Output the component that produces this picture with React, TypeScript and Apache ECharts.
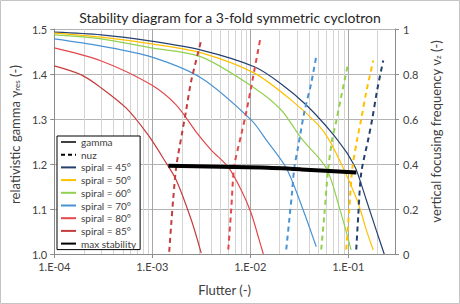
import React, { useEffect, useRef } from 'react';
import * as echarts from 'echarts';

const titleText = 'Stability diagram for a 3-fold symmetric cyclotron';
const xName = 'Flutter (-)';
const yLeftName = 'relativistic gamma γ{s|res} (-)';
const yRightName = 'vertical focusing frequency ν{s|z} (-)';

const spiralNames = ['spiral = 45°', 'spiral = 50°', 'spiral = 60°', 'spiral = 70°', 'spiral = 80°', 'spiral = 85°'];
const spiralColors = ['#25406f', '#ffc000', '#92d050', '#4a93d3', '#e4474a', '#c43c3c'];

// gamma_res (left axis) vs flutter
const gamma45 = [[1e-4, 1.493], [3.02e-4, 1.487], [9.77e-4, 1.473], [3.16e-3, 1.453], [1.1e-2, 1.416], [2.07e-2, 1.378], [3.73e-2, 1.331], [6.71e-2, 1.271], [9.54e-2, 1.227], [0.107, 1.209], [0.121, 1.187], [0.153, 1.12], [0.193, 1.053], [0.233, 1.0]];
const gamma50 = [[1e-4, 1.491], [3.02e-4, 1.482], [9.77e-4, 1.467], [3.16e-3, 1.447], [1.1e-2, 1.402], [2.62e-2, 1.342], [4.94e-2, 1.287], [6.4e-2, 1.253], [8.89e-2, 1.191], [0.121, 1.124], [0.136, 1.091], [0.153, 1.053], [0.18, 1.009]];
const gamma60 = [[1e-4, 1.487], [3.02e-4, 1.478], [9.77e-4, 1.458], [3.16e-3, 1.438], [1.1e-2, 1.369], [2.07e-2, 1.32], [3.32e-2, 1.257], [5.96e-2, 1.191], [8.09e-2, 1.104], [0.107, 1.009]];
const gamma70 = [[1e-4, 1.478], [3.02e-4, 1.462], [9.77e-4, 1.438], [3.16e-3, 1.391], [1.02e-2, 1.298], [1.46e-2, 1.253], [2.33e-2, 1.191], [3.32e-2, 1.109], [4.72e-2, 1.016]];
const gamma80 = [[1e-4, 1.458], [3.02e-4, 1.429], [9.77e-4, 1.376], [1.76e-3, 1.331], [2.81e-3, 1.271], [4.0e-3, 1.231], [5.97e-3, 1.193], [8.09e-3, 1.142], [1.02e-2, 1.091], [1.235e-2, 1.031], [1.36e-2, 1.0]];
const gamma85 = [[1e-4, 1.418], [1.89e-4, 1.398], [3.02e-4, 1.369], [5.43e-4, 1.324], [9.1e-4, 1.264], [1.39e-3, 1.202], [1.76e-3, 1.164], [2.5e-3, 1.076], [3.16e-3, 1.002]];

// nu_z (right axis) vs flutter
const nuz45 = [[0.1207, 0.02], [0.1265, 0.17], [0.1357, 0.36], [0.16, 0.51], [0.1757, 0.6], [0.1976, 0.73], [0.2276, 0.86]];
const nuz50 = [[9.54e-2, 0.02], [0.1024, 0.2], [0.11, 0.38], [0.1235, 0.51], [0.1357, 0.6], [0.1527, 0.72], [0.18, 0.86]];
const nuz60 = [[5.3e-2, 0.02], [5.69e-2, 0.17], [6.25e-2, 0.38], [6.87e-2, 0.51], [7.54e-2, 0.59], [8.48e-2, 0.7], [0.1, 0.85]];
const nuz70 = [[2.33e-2, 0.02], [2.5e-2, 0.15], [2.68e-2, 0.28], [2.81e-2, 0.38], [3.09e-2, 0.48], [3.56e-2, 0.63], [4.19e-2, 0.76], [4.72e-2, 0.88]];
const nuz80 = [[5.97e-3, 0.02], [6.4e-3, 0.2], [6.87e-3, 0.39], [8.09e-3, 0.53], [9.1e-3, 0.63], [1.02e-2, 0.74], [1.27e-2, 0.96]];
const nuz85 = [[1.49e-3, 0.01], [1.56e-3, 0.13], [1.64e-3, 0.25], [1.76e-3, 0.39], [2.02e-3, 0.54], [2.22e-3, 0.64], [2.5e-3, 0.77], [3.16e-3, 0.95]];

const maxStability = [[1.46e-3, 1.196], [1.29e-2, 1.192], [3.32e-2, 1.188], [0.121, 1.181]];

const gammaSets = [gamma45, gamma50, gamma60, gamma70, gamma80, gamma85];
const nuzSets = [nuz45, nuz50, nuz60, nuz70, nuz80, nuz85];

const xMin = 1e-4;
const xMax = 0.3;
const yMin = 1.0;
const yMax = 1.5;

export default function App() {
  const ref = useRef<HTMLDivElement>(null);
  useEffect(() => {
    document.body.style.margin = '0';
    if (!ref.current) return;
    const chart = echarts.init(ref.current, undefined, { renderer: 'svg' });
    const font = 'Lato';

    const minor: number[] = [];
    for (let d = -4; d <= -1; d++) {
      for (let k = 2; k <= 9; k++) {
        const v = k * Math.pow(10, d);
        if (v < xMax - 1e-9) minor.push(v);
      }
    }

    const series: any[] = [];
    series.push({
      name: 'minor', type: 'lines', coordinateSystem: 'cartesian2d', xAxisIndex: 0, yAxisIndex: 0,
      z: 1, silent: true, polyline: false,
      lineStyle: { color: '#d4d4d4', width: 1, opacity: 1, curveness: 0 },
      data: minor.map((v) => ({ coords: [[v, yMin], [v, yMax]] })),
    });
    series.push({ name: 'gamma', type: 'line', data: [], symbol: 'none', lineStyle: { color: '#404040', width: 1.2 }, itemStyle: { color: '#404040' } });
    series.push({ name: 'nuz', type: 'line', data: [], symbol: 'none', lineStyle: { color: '#000', width: 1.5, type: [4, 3] }, itemStyle: { color: '#000' } });
    spiralNames.forEach((n, i) => {
      series.push({
        name: n, type: 'line', data: gammaSets[i], yAxisIndex: 0, symbol: 'none', smooth: 0.3, z: 3,
        lineStyle: { color: spiralColors[i], width: 1.2 }, itemStyle: { color: spiralColors[i] },
      });
    });
    spiralNames.forEach((n, i) => {
      series.push({
        name: n, type: 'line', data: nuzSets[i], yAxisIndex: 1, symbol: 'none', smooth: 0.3, z: 3,
        lineStyle: { color: spiralColors[i], width: 2, type: [5, 4] }, itemStyle: { color: spiralColors[i] },
      });
    });
    series.push({
      name: 'max stability', type: 'line', data: maxStability, yAxisIndex: 0, symbol: 'none', smooth: 0.3, z: 4,
      lineStyle: { color: '#000', width: 4 }, itemStyle: { color: '#000' },
    });

    chart.setOption({
      animation: false,
      textStyle: { fontFamily: font },
      title: {
        text: titleText, left: 'center', top: 5,
        textStyle: { fontSize: 14, fontWeight: 'normal', color: '#262626', fontFamily: font },
      },
      graphic: [{
        type: 'rect', silent: true, z: -1,
        shape: { x: 0.5, y: 0.5, width: 459, height: 303 },
        style: { fill: '#fff', stroke: '#c4c4c4', lineWidth: 1 },
      }],
      grid: { left: 53, right: 65, top: 29, bottom: 50 },
      legend: {
        data: ['gamma', 'nuz', ...spiralNames, 'max stability'],
        orient: 'vertical', left: 57, top: 136,
        itemWidth: 15, itemHeight: 10, itemGap: 2.7,
        padding: [1, 4, 1, 3],
        borderColor: '#000', borderWidth: 1, backgroundColor: '#fff',
        selectedMode: false,
        itemStyle: { opacity: 0 },
        textStyle: { fontSize: 10, color: '#404040', lineHeight: 10, fontFamily: font },
      },
      xAxis: {
        type: 'log', logBase: 10, min: xMin, max: xMax,
        name: xName, nameLocation: 'middle', nameGap: 29,
        nameTextStyle: { fontSize: 13, color: '#404040', fontFamily: font },
        axisLine: { show: true, lineStyle: { color: '#8c8c8c' } },
        axisTick: { show: true, inside: false, length: 4, lineStyle: { color: '#8c8c8c' } },
        axisLabel: {
          fontSize: 11, color: '#404040', margin: 7, showMaxLabel: false,
          formatter: (v: number) => {
            const e = Math.round(Math.log10(v));
            return '1.E-' + String(-e).padStart(2, '0');
          },
        },
        splitLine: { show: true, lineStyle: { color: '#a6a6a6', width: 1 } },
      },
      yAxis: [
        {
          type: 'value', min: yMin, max: yMax, interval: 0.1,
          name: yLeftName, nameLocation: 'middle', nameRotate: 90, nameGap: 30,
          nameTextStyle: {
            fontSize: 13, color: '#404040', fontFamily: font, padding: [0, 0, 0, 14],
            rich: { s: { fontSize: 8, verticalAlign: 'bottom', lineHeight: 8, color: '#404040', fontFamily: font } },
          },
          axisLine: { show: true, lineStyle: { color: '#8c8c8c' } },
          axisTick: { show: true, inside: false, length: 4, lineStyle: { color: '#8c8c8c' } },
          axisLabel: { fontSize: 11, color: '#404040', margin: 7, formatter: (v: number) => v.toFixed(1) },
          splitLine: { show: true, lineStyle: { color: '#b3b3b3', width: 1 } },
        },
        {
          type: 'value', min: 0, max: 1, interval: 0.2, position: 'right',
          name: yRightName, nameLocation: 'middle', nameRotate: 90, nameGap: 26,
          nameTextStyle: {
            fontSize: 13, color: '#404040', fontFamily: font, padding: [0, 0, 0, 20],
            rich: { s: { fontSize: 8, verticalAlign: 'bottom', lineHeight: 8, color: '#404040', fontFamily: font } },
          },
          axisLine: { show: true, lineStyle: { color: '#8c8c8c' } },
          axisTick: { show: true, inside: false, length: 4, lineStyle: { color: '#8c8c8c' } },
          axisLabel: { fontSize: 11, color: '#404040', margin: 8, formatter: (v: number) => String(+v.toFixed(1)) },
          splitLine: { show: false },
        },
      ],
      series,
    });
    return () => chart.dispose();
  }, []);
  return <div ref={ref} style={{ width: 460, height: 304 }} />;
}
